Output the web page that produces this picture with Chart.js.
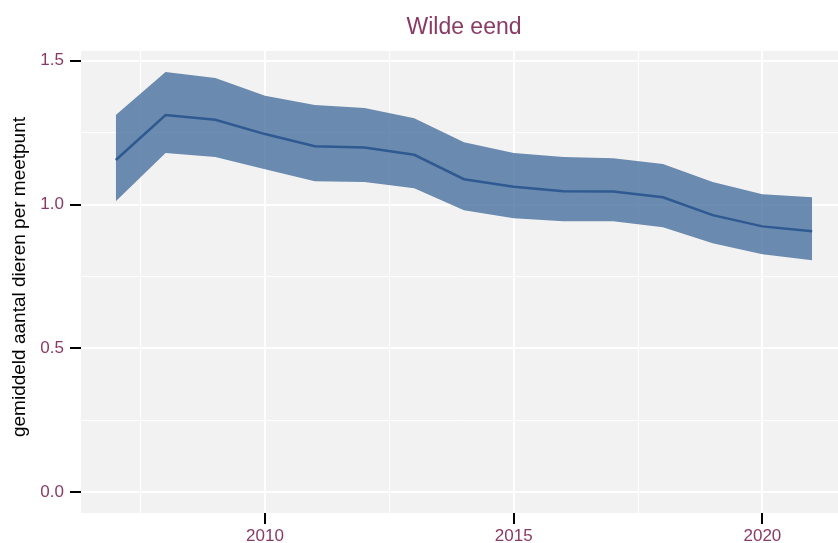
<!DOCTYPE html>
<html>
<head>
<meta charset="utf-8">
<script src="https://cdn.jsdelivr.net/npm/chart.js@4.4.1/dist/chart.umd.min.js"></script>
<style>
  html, body { margin: 0; padding: 0; background: #fff; }
  #wrap { width: 838px; height: 543px; }
</style>
</head>
<body>
<div id="wrap"><canvas id="myChart" width="838" height="543"></canvas></div>
<script>
// data
const years = [2007, 2008, 2009, 2010, 2011, 2012, 2013, 2014, 2015, 2016, 2017, 2018, 2019, 2020, 2021];
const mean  = [1.155, 1.311, 1.295, 1.245, 1.203, 1.198, 1.173, 1.088, 1.062, 1.046, 1.045, 1.025, 0.963, 0.924, 0.907];
const upper = [1.311, 1.461, 1.440, 1.378, 1.346, 1.336, 1.300, 1.217, 1.179, 1.165, 1.161, 1.141, 1.078, 1.036, 1.025];
const lower = [1.011, 1.179, 1.165, 1.123, 1.081, 1.078, 1.057, 0.980, 0.952, 0.942, 0.942, 0.921, 0.865, 0.827, 0.806];

const yTicks = [0, 0.25, 0.5, 0.75, 1, 1.25, 1.5];
const xTicks = [2007.5, 2010, 2012.5, 2015, 2017.5, 2020];

const titleText = "Wilde eend";
const yTitle = "gemiddeld aantal dieren per meetpunt";

const purple = "#8b3a65";
const font = "'Liberation Sans', Arial, sans-serif";

const pts = (arr) => years.map((y, i) => ({ x: y, y: arr[i] }));

// panel background + titles
const decor = {
  id: "decor",
  beforeDraw(chart) {
    const c = chart.ctx, a = chart.chartArea;
    c.save();
    c.fillStyle = "#ffffff";
    c.fillRect(0, 0, chart.width, chart.height);
    c.fillStyle = "#f2f2f2";
    c.fillRect(a.left, a.top, a.right - a.left, a.bottom - a.top);
    c.restore();
  },
  afterDraw(chart) {
    const c = chart.ctx;
    c.save();
    c.fillStyle = purple;
    c.font = "23px " + font;
    c.textAlign = "center";
    c.textBaseline = "middle";
    c.fillText(titleText, 464, 28);
    c.fillStyle = "#000";
    c.font = "19px " + font;
    c.translate(20, 277);
    c.rotate(-Math.PI / 2);
    c.fillText(yTitle, 0, 0);
    c.restore();
  }
};

const isMajorY = (v) => Math.abs(v * 2 - Math.round(v * 2)) < 1e-6;
const isMajorX = (v) => Math.abs(v / 5 - Math.round(v / 5)) < 1e-6;

new Chart(document.getElementById("myChart"), {
  type: "line",
  data: {
    datasets: [
      {
        label: "upper",
        data: pts(upper),
        borderWidth: 0,
        pointRadius: 0,
        fill: "+1",
        backgroundColor: "rgba(53,97,150,0.72)",
        tension: 0
      },
      {
        label: "lower",
        data: pts(lower),
        borderWidth: 0,
        pointRadius: 0,
        fill: false,
        tension: 0
      },
      {
        label: "gemiddeld",
        data: pts(mean),
        borderColor: "#2f5a91",
        borderWidth: 2.5,
        pointRadius: 0,
        fill: false,
        tension: 0
      }
    ]
  },
  options: {
    responsive: false,
    animation: false,
    devicePixelRatio: 1,
    layout: { padding: { top: 51, left: 0, right: 0, bottom: 0 } },
    plugins: {
      legend: { display: false },
      tooltip: { enabled: false },
      filler: { drawTime: "beforeDatasetsDraw" }
    },
    scales: {
      x: {
        type: "linear",
        min: 2006.3,
        max: 2021.52,
        afterBuildTicks: (s) => { s.ticks = xTicks.map((v) => ({ value: v })); },
        afterFit: (s) => { s.height = 30; },
        border: { display: false },
        grid: {
          color: "#ffffff",
          lineWidth: (ctx) => (ctx.tick && isMajorX(ctx.tick.value) ? 2 : 1),
          tickColor: (ctx) => (ctx.tick && isMajorX(ctx.tick.value) ? "#000" : "rgba(0,0,0,0)"),
          tickLength: 11,
          tickWidth: 2
        },
        ticks: {
          autoSkip: false,
          maxRotation: 0,
          padding: 2,
          color: purple,
          font: { family: font, size: 17 },
          callback: (v) => (isMajorX(v) ? String(v) : "")
        }
      },
      y: {
        type: "linear",
        min: -0.073,
        max: 1.534,
        afterBuildTicks: (s) => { s.ticks = yTicks.map((v) => ({ value: v })); },
        afterFit: (s) => { s.width = 81; },
        border: { display: false },
        grid: {
          color: "#ffffff",
          lineWidth: (ctx) => (ctx.tick && isMajorY(ctx.tick.value) ? 2 : 1),
          tickColor: (ctx) => (ctx.tick && isMajorY(ctx.tick.value) ? "#000" : "rgba(0,0,0,0)"),
          tickLength: 11,
          tickWidth: 2
        },
        ticks: {
          autoSkip: false,
          padding: 6,
          color: purple,
          font: { family: font, size: 17 },
          callback: (v) => (isMajorY(v) ? v.toFixed(1) : "")
        }
      }
    }
  },
  plugins: [decor]
});
</script>
</body>
</html>
